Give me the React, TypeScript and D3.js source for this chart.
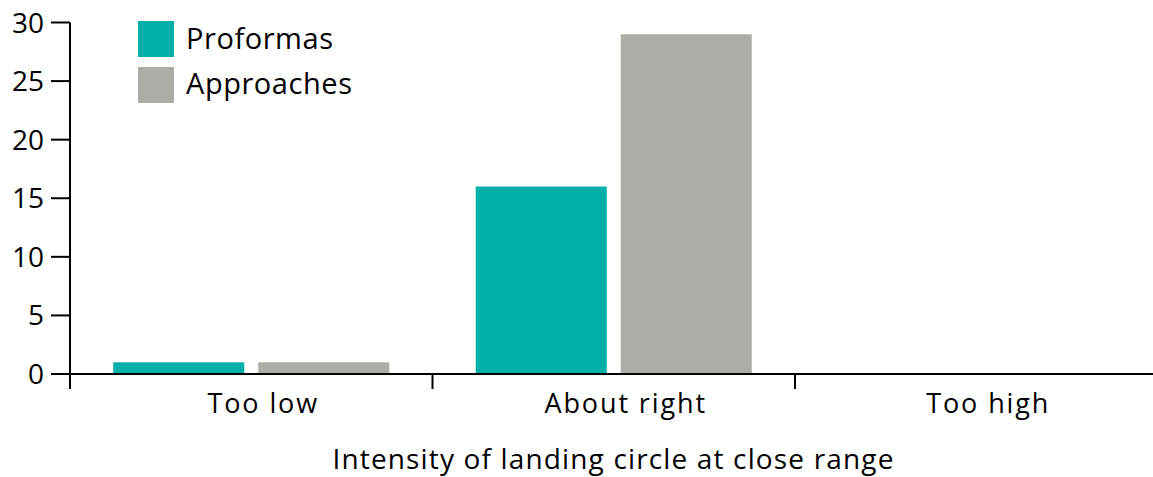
import React from "react";
import * as d3 from "d3";

const categories = ["Too low", "About right", "Too high"];
const seriesNames = ["Proformas", "Approaches"];
const proformas = [1, 16, 0];
const approaches = [1, 29, 0];
const yTicks = [0, 5, 10, 15, 20, 25, 30];
const colors = ["#00b0a8", "#adada8"];
const xTitle = "Intensity of landing circle at close range";

export default function App() {
  const W = 1153, H = 477;
  const x0 = 70, x1 = 1157.5;
  const yBase = 374, yTop = 22.5;
  const font = "'Open Sans', sans-serif";
  const x = d3.scaleBand<string>().domain(categories).range([x0, x1]).padding(0);
  const bw = x.bandwidth();
  const xi = d3.scaleBand<string>().domain(seriesNames).range([0, bw])
    .paddingInner(14 / 145).paddingOuter(0.298);
  const y = d3.scaleLinear().domain([0, 30]).range([yBase, yTop]);
  const values = [proformas, approaches];
  const bounds = [...categories.map((c) => x(c) as number)];
  return (
    <svg width={W} height={H} style={{ position: "absolute", left: 0, top: 0, display: "block" }}
      fontFamily={font}>
      {categories.map((c, ci) =>
        seriesNames.map((s, si) => {
          const v = values[si][ci];
          if (v <= 0) return null;
          return (
            <rect key={c + s} x={(x(c) as number) + (xi(s) as number)} y={y(v)}
              width={xi.bandwidth()} height={yBase - y(v)} fill={colors[si]} />
          );
        })
      )}
      {/* y axis */}
      <line x1={x0} x2={x0} y1={yTop} y2={389} stroke="#000" strokeWidth={2} />
      {yTicks.map((t) => (
        <g key={t}>
          <line x1={51} x2={x0} y1={y(t)} y2={y(t)} stroke="#000" strokeWidth={2} />
          <text x={44} y={y(t)} dy="0.36em" textAnchor="end" fontSize={28} fill="#000">{t}</text>
        </g>
      ))}
      {/* x axis */}
      <line x1={x0} x2={W} y1={yBase} y2={yBase} stroke="#000" strokeWidth={2} />
      {bounds.map((b, i) => (
        <line key={i} x1={b} x2={b} y1={yBase} y2={389} stroke="#000" strokeWidth={2} />
      ))}
      {categories.map((c) => (
        <text key={c} x={(x(c) as number) + bw / 2 + 12} y={412.5} textAnchor="middle"
          fontSize={27} letterSpacing={1.9} fill="#000">{c}</text>
      ))}
      <text x={613.5} y={468.5} textAnchor="middle" fontSize={28} letterSpacing={1.15} fill="#000">{xTitle}</text>
      {/* legend */}
      {seriesNames.map((s, i) => (
        <g key={s}>
          <rect x={138} y={21 + i * 46} width={36} height={36} fill={colors[i]} />
          <text x={186} y={48.5 + i * 45.5} fontSize={29} letterSpacing={0.55} fill="#000">{s}</text>
        </g>
      ))}
    </svg>
  );
}
